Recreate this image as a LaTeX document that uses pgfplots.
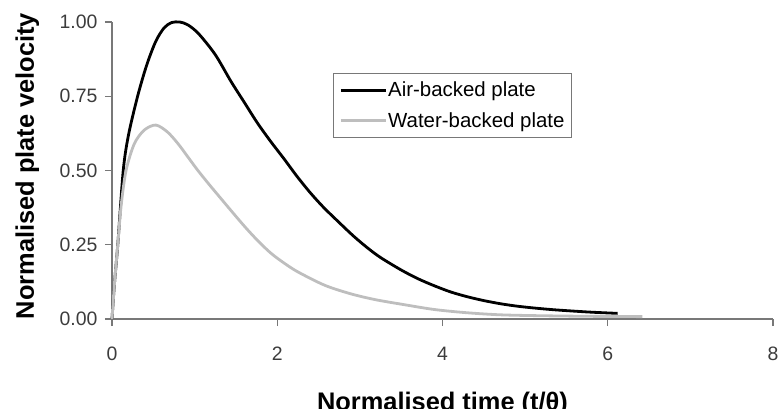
\documentclass[border=0pt]{standalone}
\usepackage{fontspec}
\setmainfont{Liberation Sans}
\usepackage{pgfplots}
\pgfplotsset{compat=1.18}
\definecolor{axgray}{RGB}{120,120,120}
\definecolor{watergray}{RGB}{190,190,190}
\definecolor{tickcol}{RGB}{60,60,60}
\begin{document}
\begin{tikzpicture}[x=1bp,y=1bp]
\begin{axis}[
  at={(0,0)}, anchor=south west,
  scale only axis, width=661bp, height=297bp,
  xmin=0, xmax=8, ymin=0, ymax=1,
  axis x line*=bottom, axis y line*=left,
  axis line style={-, draw=axgray, line width=1.5bp},
  xtick={0,2,4,6,8}, ytick={0,0.25,0.5,0.75,1},
  tick align=outside, major tick length=7bp,
  tick style={draw=axgray, line width=1.2bp},
  /pgf/number format/assume math mode=true,
  ticklabel style={font=\fontsize{19.5}{22}\selectfont, text=tickcol},
  xticklabel style={anchor=center, yshift=-28bp},
  yticklabel style={anchor=east, xshift=-4bp, /pgf/number format/.cd, fixed, fixed zerofill, precision=2},
  xlabel={Normalised time (t/θ)},
  ylabel={Normalised plate velocity},
  label style={font=\bfseries\fontsize{25.5}{28}\selectfont},
  xlabel style={at={(axis description cs:0.5,-0.269)}, anchor=center, yshift=-5bp},
  ylabel style={at={(axis description cs:-0.128,0.515)}, anchor=center},
  legend style={at={(axis description cs:0.334,0.828)}, anchor=north west,
    draw=axgray, line width=1.2bp, font=\fontsize{20.5}{24}\selectfont,
    row sep=10bp, inner xsep=6bp, inner ysep=6.5bp,
    nodes={inner xsep=1bp}},
  legend cell align=left,
  legend image code/.code={\draw[#1] (0bp,0bp) -- (45bp,0bp);},
  clip=false,
]
\addplot[black, line width=2.8bp, smooth, tension=0.5, line join=round] coordinates {
(0,0) (0.03,0.12) (0.07,0.25) (0.136,0.5) (0.2,0.62) (0.31,0.75)
(0.42,0.855) (0.53,0.935) (0.63,0.98) (0.72,0.998) (0.82,1.0) (0.92,0.99)
(1.05,0.96) (1.25,0.89) (1.44,0.80) (1.60,0.73) (1.76,0.66) (1.92,0.598)
(2.08,0.54) (2.24,0.48) (2.40,0.425) (2.56,0.376) (2.73,0.33) (2.92,0.28)
(3.09,0.24) (3.25,0.207) (3.50,0.165) (3.70,0.136) (3.90,0.112) (4.10,0.091)
(4.30,0.075) (4.50,0.062) (4.71,0.051) (4.91,0.043) (5.11,0.037) (5.31,0.032)
(5.51,0.028) (5.80,0.023) (6.12,0.019)
};
\addlegendentry{Air-backed plate}
\addplot[watergray, line width=2.8bp, smooth, tension=0.5, line join=round] coordinates {
(0,0) (0.03,0.12) (0.07,0.25) (0.11,0.38) (0.17,0.5) (0.27,0.59)
(0.39,0.636) (0.53,0.653) (0.67,0.63) (0.80,0.59) (0.92,0.545) (1.04,0.50)
(1.17,0.455) (1.29,0.415) (1.45,0.362) (1.61,0.31) (1.77,0.262) (1.93,0.22)
(2.10,0.185) (2.26,0.157) (2.58,0.113) (2.90,0.084) (3.19,0.065) (3.50,0.05)
(3.90,0.032) (4.30,0.021) (4.71,0.014) (5.20,0.011) (5.80,0.009) (6.42,0.008)
};
\addlegendentry{Water-backed plate}
\end{axis}
\pgfresetboundingbox
\useasboundingbox (-112,-89) rectangle (668,319);
\end{tikzpicture}
\end{document}
